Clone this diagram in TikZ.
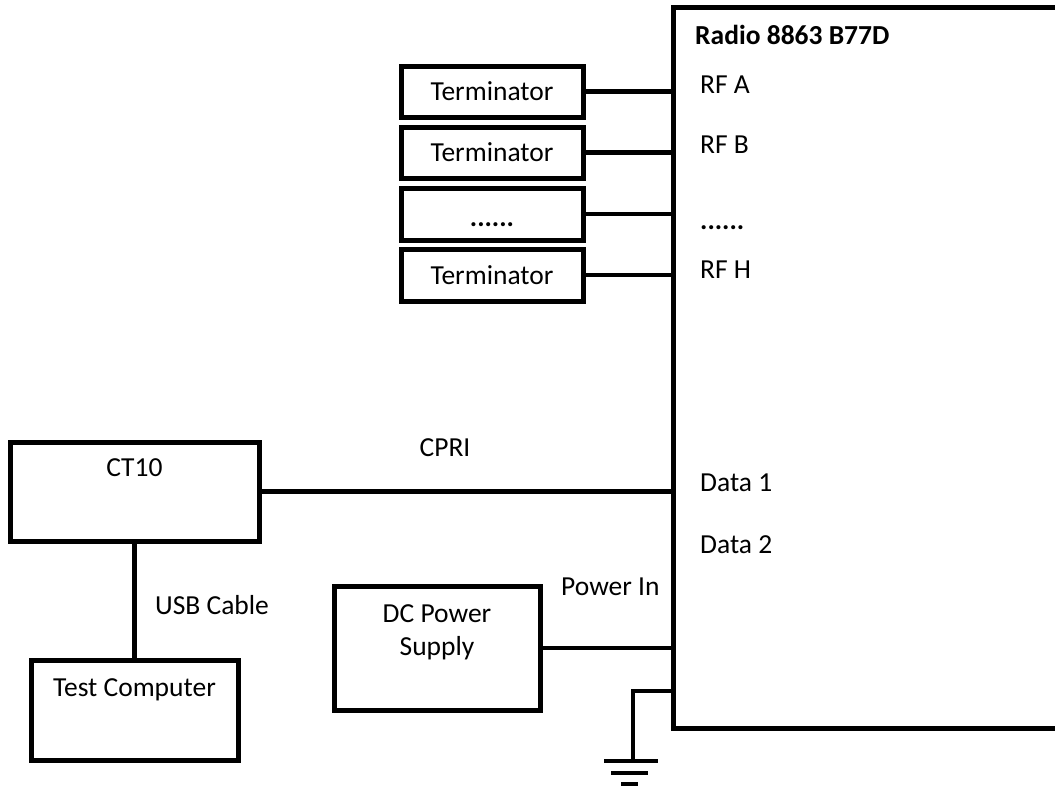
\documentclass[tikz,border=0pt]{standalone}
\usepackage{fontspec}
\setmainfont{Carlito}
\begin{document}
\begin{tikzpicture}[x=1pt,y=-1pt,
  box/.style={draw, line width=5pt, inner sep=0pt, rectangle},
  wire/.style={line width=4.5pt},
  txt/.style={inner sep=0pt, font=\fontsize{27.5}{33}\selectfont},
  btxt/.style={inner sep=0pt, font=\fontsize{27.5}{33}\selectfont\bfseries}]
\useasboundingbox (0,0) rectangle (1055,788);
% Radio
\node[box, minimum width=427pt, minimum height=721pt] (radio) at (886.5,367.5) {};
\node[btxt, anchor=west] (title) at (695,35) {Radio 8863 B77D};
\node[txt, anchor=west] (rfa) at (700,85) {RF A};
\node[txt, anchor=west] (rfb) at (700,145) {RF B};
\node[btxt, anchor=west] (rfdots) at (700,228) {......};
\node[txt, anchor=west] (rfh) at (700,270) {RF H};
\node[txt, anchor=west] (d1) at (700,483) {Data 1};
\node[txt, anchor=west] (d2) at (700,545) {Data 2};
% Terminators
\node[box, minimum width=182pt, minimum height=51pt] (t1) at (492,91.5) {};
\node[txt] at (t1) {Terminator};
\node[box, minimum width=182pt, minimum height=51pt] (t2) at (492,152.5) {};
\node[txt] at (t2) {Terminator};
\node[box, minimum width=182pt, minimum height=52pt] (t3) at (492,214) {};
\node[btxt] (t3t) at (492,225) {......};
\node[box, minimum width=182pt, minimum height=52pt] (t4) at (492,275) {};
\node[txt] at (t4) {Terminator};
\foreach \t in {t1,t2,t3,t4}
  \draw[wire] (\t.east) -- (radio.west |- \t.east);
% CT10
\node[box, minimum width=249pt, minimum height=99pt] (ct10) at (134.5,491.5) {};
\node[txt] (ct10t) at (134.5,468) {CT10};
\draw[wire] (ct10.east) -- (radio.west |- ct10.east);
\node[txt] (cpri) at (445,448) {CPRI};
% Test computer
\node[box, minimum width=207pt, minimum height=100pt] (tc) at (134.5,710) {};
\node[txt] (tct) at (134.5,690) {Test Computer};
\draw[wire] (ct10.south) -- (tc.north);
\node[txt, anchor=west] (usb) at (155,605) {USB Cable};
% DC power
\node[box, minimum width=206pt, minimum height=124pt] (dc) at (437,648) {};
\node[txt, align=center] (dct) at (437,632) {DC Power\\Supply};
\draw[wire] (dc.east) -- (radio.west |- dc.east);
\node[txt, anchor=west] (pin) at (561,587) {Power In};
% Ground
\coordinate (g0) at (radio.west |- 0,691);
\coordinate (g1) at (633,761);
\draw[wire] (g0) -| (g1);
\draw[wire] ([xshift=-29pt]g1) -- ([xshift=25pt]g1);
\draw[wire] ([xshift=-22pt,yshift=-12pt]g1) -- ([xshift=15pt,yshift=-12pt]g1);
\draw[wire] ([xshift=-12pt,yshift=-23pt]g1) -- ([xshift=5pt,yshift=-23pt]g1);
\end{tikzpicture}
\end{document}
